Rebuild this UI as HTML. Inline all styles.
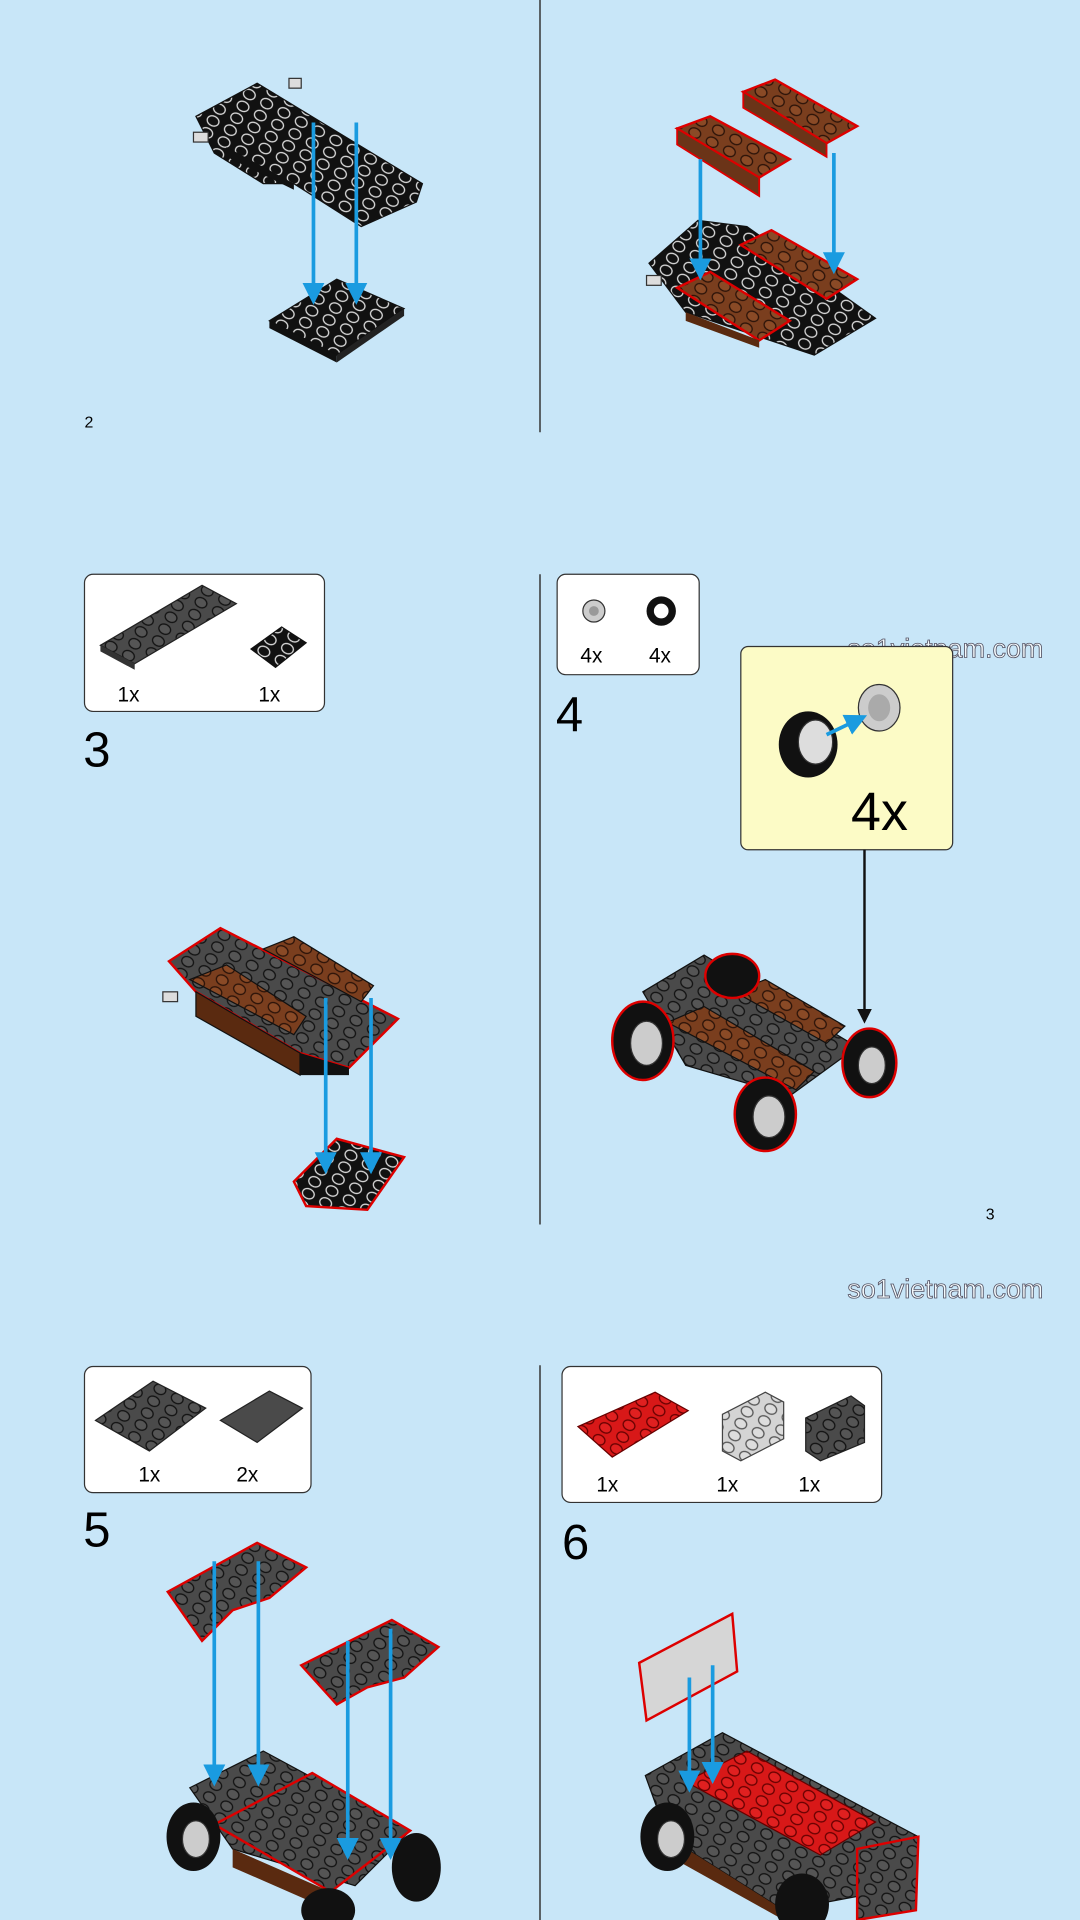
<!DOCTYPE html>
<html><head><meta charset="utf-8">
<style>
html,body{margin:0;padding:0;background:#c8e6f8;}
svg{display:block;}
text{font-family:"Liberation Sans",sans-serif;}
</style></head>
<body>
<svg width="1080" height="1920" viewBox="0 0 882 1568" xmlns="http://www.w3.org/2000/svg">
<defs>
<pattern id="sb" width="16" height="11" patternUnits="userSpaceOnUse" patternTransform="rotate(28)">
<rect width="16" height="11" fill="#111"/><ellipse cx="8" cy="5.5" rx="5" ry="4" fill="#111" stroke="#ddd" stroke-width="1"/></pattern>
<pattern id="sg" width="16" height="11" patternUnits="userSpaceOnUse" patternTransform="rotate(28)">
<rect width="16" height="11" fill="#4a4a4a"/><ellipse cx="8" cy="5.5" rx="5" ry="4" fill="#555" stroke="#111" stroke-width="1"/></pattern>
<pattern id="sbr" width="16" height="11" patternUnits="userSpaceOnUse" patternTransform="rotate(28)">
<rect width="16" height="11" fill="#7a3e1e"/><ellipse cx="8" cy="5.5" rx="5" ry="4" fill="#8a4a26" stroke="#2a1208" stroke-width="1"/></pattern>
<pattern id="sr" width="16" height="11" patternUnits="userSpaceOnUse" patternTransform="rotate(28)">
<rect width="16" height="11" fill="#d81818"/><ellipse cx="8" cy="5.5" rx="5" ry="4" fill="#e02020" stroke="#600" stroke-width="1"/></pattern>
<pattern id="sl" width="16" height="11" patternUnits="userSpaceOnUse" patternTransform="rotate(28)">
<rect width="16" height="11" fill="#d4d4d4"/><ellipse cx="8" cy="5.5" rx="5" ry="4" fill="#ddd" stroke="#555" stroke-width="1"/></pattern>
<marker id="ab" markerWidth="6" markerHeight="6" refX="3" refY="3" orient="auto"><path d="M0,0 L6,3 L0,6z" fill="#1a9be0"/></marker>
<marker id="ak" markerWidth="6" markerHeight="6" refX="3" refY="3" orient="auto"><path d="M0,0 L6,3 L0,6z" fill="#111"/></marker>
</defs>
<rect width="882" height="1568" fill="#c8e6f8"/>
<g stroke="#333" stroke-width="1.2">
<line x1="441" y1="0" x2="441" y2="353"/><line x1="441" y1="469" x2="441" y2="1000"/><line x1="441" y1="1115" x2="441" y2="1568"/>
</g>
<text x="69" y="349" font-size="13">2</text>
<text x="805" y="996" font-size="13">3</text>
<text x="692" y="537" font-size="22" fill="#f4fafd" stroke="#556" stroke-width="0.7">so1vietnam.com</text>
<text x="692" y="1060" font-size="22" fill="#f4fafd" stroke="#556" stroke-width="0.7">so1vietnam.com</text>

<!-- step 2 left -->
<polygon points="160,95 210,68 345,150 340,165 295,185 240,150 215,150 175,125" fill="url(#sb)" stroke="#111"/>
<polygon points="185,120 240,150 240,155 185,128" fill="#111"/>
<rect x="158" y="108" width="12" height="8" fill="#ddd" stroke="#333"/>
<rect x="236" y="64" width="10" height="8" fill="#ddd" stroke="#333"/>
<polygon points="220,262 275,228 330,252 275,290" fill="url(#sb)" stroke="#111"/>
<polygon points="220,262 275,290 275,296 220,268" fill="#111"/><polygon points="275,290 330,252 330,258 275,296" fill="#222"/>
<g stroke="#1a9be0" stroke-width="3" marker-end="url(#ab)"><line x1="256" y1="100" x2="256" y2="240"/><line x1="291" y1="100" x2="291" y2="240"/></g>

<!-- step 2 right -->
<polygon points="530,215 570,180 610,185 715,260 665,290 560,255" fill="url(#sb)" stroke="#111"/>
<polygon points="553,235 580,222 645,262 620,278" fill="url(#sbr)" stroke="#d00" stroke-width="2"/>
<polygon points="605,200 630,188 700,228 675,244" fill="url(#sbr)" stroke="#d00" stroke-width="2"/>
<polygon points="560,255 620,278 620,284 560,262" fill="#5a2a10"/>
<rect x="528" y="225" width="12" height="8" fill="#ddd" stroke="#333"/>
<polygon points="553,105 580,95 645,130 620,145" fill="url(#sbr)" stroke="#d00" stroke-width="2"/>
<polygon points="553,105 620,145 620,160 553,118" fill="#6b3418" stroke="#d00" stroke-width="1.5"/>
<polygon points="607,75 633,65 700,103 675,117" fill="url(#sbr)" stroke="#d00" stroke-width="2"/>
<polygon points="607,75 675,117 675,128 607,88" fill="#6b3418" stroke="#d00" stroke-width="1.5"/>
<g stroke="#1a9be0" stroke-width="3" marker-end="url(#ab)"><line x1="572" y1="130" x2="572" y2="220"/><line x1="681" y1="125" x2="681" y2="215"/></g>

<!-- box 3 -->
<rect x="69" y="469" width="196" height="112" rx="7" fill="#fff" stroke="#333"/>
<polygon points="82,527 165,478 193,493 110,542" fill="url(#sg)" stroke="#222"/>
<polygon points="82,527 110,542 110,547 82,532" fill="#333"/>
<polygon points="205,530 230,512 250,525 225,545" fill="url(#sb)" stroke="#111"/>
<text x="96" y="573" font-size="17">1x</text><text x="211" y="573" font-size="17">1x</text>
<text x="68" y="626" font-size="40">3</text>
<!-- step 3 model -->
<polygon points="138,785 180,758 325,832 285,872 245,860 160,810" fill="url(#sg)" stroke="#d00" stroke-width="2"/>
<polygon points="155,800 185,788 250,830 240,845" fill="url(#sbr)" stroke="#111"/>
<polygon points="215,775 240,765 305,805 295,818" fill="url(#sbr)" stroke="#111"/>
<polygon points="160,810 245,860 245,878 160,830" fill="#5a2a10" stroke="#111"/>
<polygon points="245,860 285,872 285,878 245,878" fill="#111"/>
<rect x="133" y="810" width="12" height="8" fill="#ddd" stroke="#333"/>
<polygon points="240,965 275,930 330,945 300,988 250,985" fill="url(#sb)" stroke="#d00" stroke-width="2"/>
<g stroke="#1a9be0" stroke-width="3" marker-end="url(#ab)"><line x1="266" y1="815" x2="266" y2="950"/><line x1="303" y1="815" x2="303" y2="950"/></g>

<!-- box 4 -->
<rect x="455" y="469" width="116" height="82" rx="7" fill="#fff" stroke="#333"/>
<circle cx="485" cy="499" r="9" fill="#ccc" stroke="#333"/><circle cx="485" cy="499" r="4" fill="#999"/>
<circle cx="540" cy="499" r="12" fill="#111"/><circle cx="540" cy="499" r="6" fill="#fff"/>
<text x="474" y="541" font-size="17">4x</text><text x="530" y="541" font-size="17">4x</text>
<text x="454" y="597" font-size="40">4</text>
<rect x="605" y="528" width="173" height="166" rx="6" fill="#fcfbc6" stroke="#333"/>
<ellipse cx="660" cy="608" rx="24" ry="27" fill="#111"/><ellipse cx="666" cy="606" rx="14" ry="18" fill="#ddd" stroke="#333"/>
<ellipse cx="718" cy="578" rx="17" ry="19" fill="#ccc" stroke="#333"/><ellipse cx="718" cy="578" rx="9" ry="11" fill="#aaa"/>
<line x1="675" y1="600" x2="700" y2="588" stroke="#1a9be0" stroke-width="3" marker-end="url(#ab)"/>
<text x="695" y="678" font-size="44">4x</text>
<line x1="706" y1="694" x2="706" y2="830" stroke="#111" stroke-width="2" marker-end="url(#ak)"/>
<!-- step 4 car -->
<polygon points="525,810 575,780 700,855 645,895 560,870" fill="url(#sg)" stroke="#111"/>
<polygon points="545,835 575,822 665,875 650,890" fill="url(#sbr)" stroke="#111"/>
<polygon points="600,810 625,800 690,838 675,852" fill="url(#sbr)" stroke="#111"/>
<g stroke="#d00" stroke-width="2">
<ellipse cx="525" cy="850" rx="25" ry="32" fill="#111"/><ellipse cx="625" cy="910" rx="25" ry="30" fill="#111"/>
<ellipse cx="710" cy="868" rx="22" ry="28" fill="#111"/><ellipse cx="598" cy="797" rx="22" ry="18" fill="#111"/></g>
<ellipse cx="528" cy="852" rx="13" ry="18" fill="#ccc" stroke="#333"/><ellipse cx="628" cy="912" rx="13" ry="17" fill="#ccc" stroke="#333"/>
<ellipse cx="712" cy="870" rx="11" ry="15" fill="#ccc" stroke="#333"/>

<!-- box 5 -->
<rect x="69" y="1116" width="185" height="103" rx="7" fill="#fff" stroke="#333"/>
<polygon points="78,1160 125,1128 168,1150 122,1185" fill="url(#sg)" stroke="#222"/>
<polygon points="180,1160 220,1136 247,1150 210,1178" fill="#4a4a4a" stroke="#222"/>
<text x="113" y="1210" font-size="17">1x</text><text x="193" y="1210" font-size="17">2x</text>
<text x="68" y="1263" font-size="40">5</text>
<polygon points="137,1300 210,1260 250,1280 220,1305 190,1315 165,1340" fill="url(#sg)" stroke="#d00" stroke-width="2"/>
<polygon points="246,1360 320,1323 358,1345 330,1370 300,1378 275,1392" fill="url(#sg)" stroke="#d00" stroke-width="2"/>
<polygon points="155,1460 215,1430 335,1495 290,1540 190,1510" fill="url(#sg)" stroke="#111"/>
<polygon points="175,1490 255,1448 335,1495 270,1545" fill="url(#sg)" stroke="#d00" stroke-width="2"/>
<polygon points="190,1510 270,1545 270,1560 190,1525" fill="#5a2a10"/>
<ellipse cx="158" cy="1500" rx="22" ry="28" fill="#111"/><ellipse cx="160" cy="1502" rx="11" ry="15" fill="#ccc" stroke="#333"/>
<ellipse cx="340" cy="1525" rx="20" ry="28" fill="#111"/><ellipse cx="268" cy="1560" rx="22" ry="18" fill="#111"/>
<g stroke="#1a9be0" stroke-width="3" marker-end="url(#ab)"><line x1="175" y1="1275" x2="175" y2="1450"/><line x1="211" y1="1275" x2="211" y2="1450"/><line x1="284" y1="1340" x2="284" y2="1510"/><line x1="319" y1="1330" x2="319" y2="1510"/></g>

<!-- box 6 -->
<rect x="459" y="1116" width="261" height="111" rx="7" fill="#fff" stroke="#333"/>
<polygon points="472,1165 535,1137 562,1152 500,1190" fill="url(#sr)" stroke="#600"/>
<polygon points="590,1155 625,1137 640,1145 640,1175 605,1193 590,1185" fill="url(#sl)" stroke="#444"/>
<polygon points="658,1158 695,1140 706,1148 706,1178 670,1193 658,1185" fill="url(#sg)" stroke="#222"/>
<text x="487" y="1218" font-size="17">1x</text><text x="585" y="1218" font-size="17">1x</text><text x="652" y="1218" font-size="17">1x</text>
<text x="459" y="1273" font-size="40">6</text>
<polygon points="522,1358 598,1318 602,1365 528,1405" fill="#d6d6d6" stroke="#d00" stroke-width="2"/>
<polygon points="527,1450 590,1415 750,1500 720,1545 640,1560 545,1500" fill="url(#sg)" stroke="#111"/>
<polygon points="560,1455 610,1430 715,1488 670,1515" fill="url(#sr)" stroke="#600"/>
<polygon points="700,1510 750,1500 748,1560 700,1568" fill="url(#sg)" stroke="#d00" stroke-width="2"/>
<polygon points="545,1500 640,1560 640,1568 545,1515" fill="#5a2a10"/>
<ellipse cx="545" cy="1500" rx="22" ry="28" fill="#111"/><ellipse cx="548" cy="1502" rx="11" ry="15" fill="#ccc" stroke="#333"/>
<ellipse cx="655" cy="1555" rx="22" ry="25" fill="#111"/>
<g stroke="#1a9be0" stroke-width="3" marker-end="url(#ab)"><line x1="563" y1="1370" x2="563" y2="1455"/><line x1="582" y1="1360" x2="582" y2="1448"/></g>
</svg>
</body></html>
